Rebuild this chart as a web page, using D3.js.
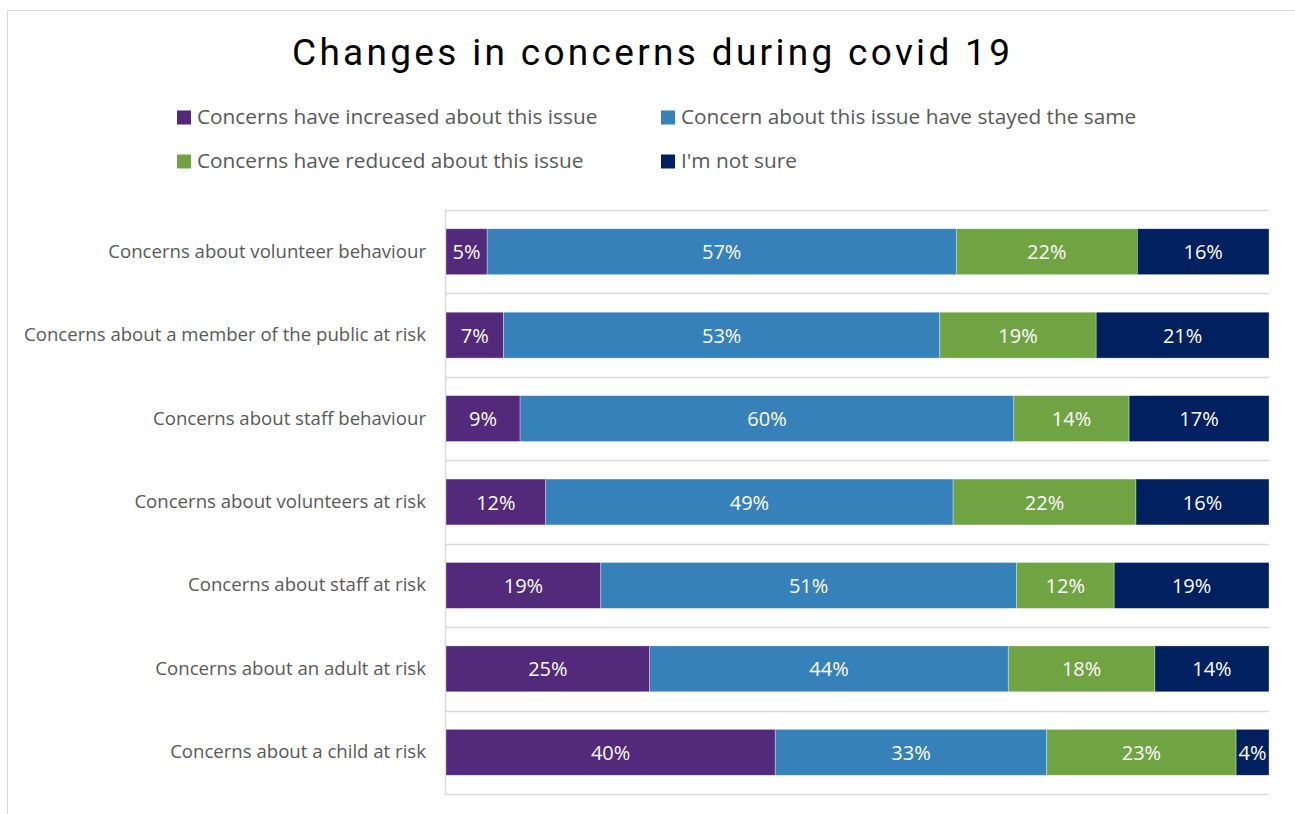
<!DOCTYPE html>
<html>
<head>
<meta charset="utf-8">
<script src="https://cdn.jsdelivr.net/npm/d3@7"></script>
<style>
  html, body { margin: 0; padding: 0; background: #fff; }
  svg { display: block; }
</style>
</head>
<body>
<svg id="chart" width="1295" height="814"></svg>
<script>
// Survey categories, listed top to bottom
const categories = [
  "Concerns about volunteer behaviour",
  "Concerns about a member of the public at risk",
  "Concerns about staff behaviour",
  "Concerns about volunteers at risk",
  "Concerns about staff at risk",
  "Concerns about an adult at risk",
  "Concerns about a child at risk"
];

// Series names (legend order)
const seriesNames = [
  "Concerns have increased about this issue",
  "Concern about this issue have stayed the same",
  "Concerns have reduced about this issue",
  "I'm not sure"
];

// Percentages per series, aligned with categories
const increased = [5, 7, 9, 12, 19, 25, 40];
const stayedSame = [57, 53, 60, 49, 51, 44, 33];
const reduced = [22, 19, 14, 22, 12, 18, 23];
const notSure = [16, 21, 17, 16, 19, 14, 4];

const seriesColors = ["#53297c", "#3781bb", "#70a442", "#002060"];

const svg = d3.select("#chart");
const W = 1295, H = 814;

// Chart frame
svg.append("rect")
  .attr("x", 7.5).attr("y", 10.5)
  .attr("width", W + 10).attr("height", H + 10)
  .attr("fill", "#fff").attr("stroke", "#d9d9d9").attr("stroke-width", 1);

// Title
svg.append("text")
  .attr("x", 292).attr("y", 65)
  .attr("font-family", "Roboto, sans-serif")
  .attr("font-size", 37)
  .attr("textLength", 718)
  .attr("lengthAdjust", "spacing")
  .attr("fill", "#000")
  .text("Changes in concerns during covid 19");

// Legend
const legendPos = [
  { x: 177, y: 117.5 }, { x: 661, y: 117.5 },
  { x: 177, y: 161.5 }, { x: 661, y: 161.5 }
];
const legend = svg.append("g");
seriesNames.forEach((name, i) => {
  const p = legendPos[i];
  legend.append("rect")
    .attr("x", p.x).attr("y", p.y - 7)
    .attr("width", 14).attr("height", 14)
    .attr("fill", seriesColors[i]);
  legend.append("text")
    .attr("x", p.x + 20).attr("y", p.y - 1.5)
    .attr("dominant-baseline", "central")
    .attr("font-family", "Open Sans, sans-serif")
    .attr("font-size", 20.8)
    .attr("fill", "#595959")
    .text(name);
});

// Plot area
const plot = { left: 446, right: 1269, top: 210, bottom: 794 };

const rows = categories.map((c, i) => ({
  category: c,
  values: [increased[i], stayedSame[i], reduced[i], notSure[i]]
}));

const y = d3.scaleBand()
  .domain(categories)
  .range([plot.top, plot.bottom])
  .paddingInner(0.45)
  .paddingOuter(0.225);

const x = d3.scaleLinear().domain([0, 1]).range([plot.left, plot.right]);

// Horizontal gridlines at category boundaries
const step = (plot.bottom - plot.top) / categories.length;
const grid = svg.append("g");
d3.range(categories.length + 1).forEach(k => {
  const gy = Math.round(plot.top + k * step) + 0.5;
  grid.append("line")
    .attr("x1", plot.left).attr("x2", plot.right)
    .attr("y1", gy).attr("y2", gy)
    .attr("stroke", "#d9d9d9").attr("stroke-width", 1.5);
});

// Category axis
const yAxis = svg.append("g")
  .attr("transform", `translate(${plot.left},0)`)
  .call(d3.axisLeft(y).tickSize(0).tickPadding(20));
yAxis.select(".domain")
  .attr("stroke", "#d9d9d9").attr("stroke-width", 1.5)
  .attr("d", `M-0.5,${plot.top}V${plot.bottom + 1}`);
yAxis.selectAll("text")
  .attr("font-family", "Open Sans, sans-serif")
  .attr("font-size", 18.6)
  .attr("fill", "#595959");

// Stacked bars, each row normalised to its own total
const bars = svg.append("g");
rows.forEach(r => {
  const total = d3.sum(r.values);
  let acc = 0;
  r.values.forEach((v, i) => {
    const x0 = x(acc / total);
    acc += v;
    const x1 = x(acc / total);
    bars.append("rect")
      .attr("x", x0).attr("y", y(r.category))
      .attr("width", x1 - x0).attr("height", y.bandwidth())
      .attr("fill", seriesColors[i])
      .attr("stroke", "#ffffff").attr("stroke-opacity", 0.55).attr("stroke-width", 0.6);
    bars.append("text")
      .attr("x", (x0 + x1) / 2)
      .attr("y", y(r.category) + y.bandwidth() / 2)
      .attr("text-anchor", "middle")
      .attr("dominant-baseline", "central")
      .attr("font-family", "Open Sans, sans-serif")
      .attr("font-size", 20)
      .attr("fill", "#fff")
      .text(v + "%");
  });
});
</script>
</body>
</html>
